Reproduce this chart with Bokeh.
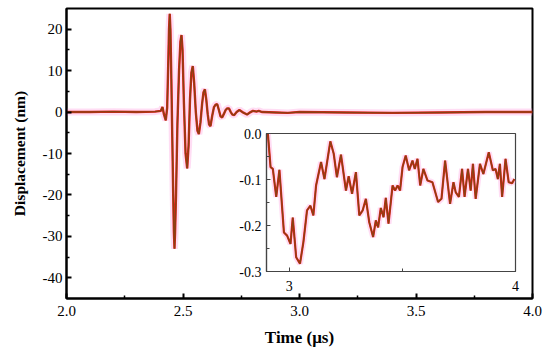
from bokeh.plotting import figure
from bokeh.layouts import column
from bokeh.models import FixedTicker, PrintfTickFormatter
from bokeh.embed import file_html
from bokeh.resources import INLINE

# ---------------- data ----------------
t_main = [2.00, 2.10, 2.20, 2.30, 2.38, 2.405, 2.412, 2.418, 2.426, 2.432,
          2.436, 2.440, 2.443, 2.446, 2.450, 2.454, 2.458, 2.461, 2.4635, 2.466,
          2.470, 2.476, 2.483, 2.489, 2.4936, 2.498, 2.504, 2.511, 2.518, 2.524,
          2.530, 2.536, 2.542, 2.548, 2.555, 2.562, 2.568, 2.575, 2.582, 2.588,
          2.594, 2.600, 2.606, 2.612, 2.618, 2.625, 2.633, 2.640, 2.647, 2.654,
          2.661, 2.668, 2.675, 2.683, 2.690, 2.697, 2.705, 2.712, 2.720, 2.730,
          2.742, 2.755, 2.775, 2.790, 2.800, 2.815, 2.825, 2.840, 2.900, 2.950,
          3.000, 3.200, 3.400, 3.600, 3.800, 4.000]
d_main = [0.0, 0.0, 0.1, 0.0, 0.1, 0.3, 1.2, -0.5, -2.0, 1.0,
          10.0, 20.0, 23.7, 20.0, 8.0, -6.0, -20.0, -29.0, -33.0, -29.0,
          -20.0, -3.0, 10.0, 17.0, 18.6, 15.0, 2.0, -10.0, -13.6, -8.0,
          3.0, 9.5, 11.1, 7.0, 0.0, -4.5, -5.3, -2.5, 2.0, 4.8,
          5.5, 3.0, -0.5, -3.0, -3.4, -1.0, 1.2, 1.8, 1.9, 0.5,
          -1.0, -1.3, -0.5, 0.5, 0.9, 0.9, 0.0, -0.6, -0.7, 0.0,
          0.5, 0.0, -0.6, 0.0, 0.3, 0.1, 0.3, 0.0, -0.1, -0.2,
          0.0, -0.1, -0.2, -0.1, 0.0, 0.0]

t_inset = [2.906, 2.918, 2.928, 2.943, 2.957, 2.977, 2.991, 3.006, 3.016, 3.031,
           3.048, 3.063, 3.079, 3.094, 3.107, 3.119, 3.141, 3.156, 3.182, 3.197,
           3.211, 3.229, 3.251, 3.263, 3.278, 3.295, 3.310, 3.325, 3.339, 3.354,
           3.371, 3.383, 3.393, 3.405, 3.417, 3.427, 3.439, 3.457, 3.468, 3.479,
           3.490, 3.501, 3.515, 3.530, 3.545, 3.555, 3.567, 3.579, 3.593, 3.611,
           3.633, 3.658, 3.673, 3.689, 3.711, 3.726, 3.736, 3.750, 3.764, 3.775,
           3.790, 3.802, 3.812, 3.824, 3.843, 3.858, 3.882, 3.900, 3.912, 3.922,
           3.931, 3.941, 3.956, 3.970, 3.985, 3.995]
d_inset = [0.0, -0.073, -0.077, -0.138, -0.079, -0.215, -0.222, -0.240, -0.183, -0.269,
           -0.283, -0.236, -0.167, -0.157, -0.178, -0.113, -0.062, -0.099, -0.017, -0.044,
           -0.095, -0.046, -0.124, -0.093, -0.131, -0.084, -0.178, -0.167, -0.142, -0.193,
           -0.225, -0.189, -0.204, -0.162, -0.182, -0.140, -0.196, -0.113, -0.124, -0.113,
           -0.124, -0.073, -0.048, -0.080, -0.059, -0.077, -0.055, -0.113, -0.077, -0.102,
           -0.106, -0.149, -0.142, -0.059, -0.153, -0.106, -0.128, -0.138, -0.077, -0.138,
           -0.077, -0.124, -0.066, -0.142, -0.066, -0.088, -0.041, -0.080, -0.077, -0.099,
           -0.066, -0.138, -0.055, -0.106, -0.108, -0.099]

main_xticks = [2.0, 2.5, 3.0, 3.5, 4.0]
main_xminor = [2.25, 2.75, 3.25, 3.75]
main_yticks = [-40, -30, -20, -10, 0, 10, 20]
main_yminor = [-35, -25, -15, -5, 5, 15]
inset_xticks = [3, 4]
inset_xminor = [3.5]
inset_yticks = [0.0, -0.1, -0.2, -0.3]
inset_yminor = [-0.05, -0.15, -0.25]

FONT = "Liberation Serif"
RED = "#e4201a"
BROWN = "#7a4612"
HALO = "#ff9fe0"

BL, BR = 66, 13   # shared left/right borders (column aligns them)


def style_axes(fig, size):
    for ax in fig.axis:
        ax.major_label_text_font = FONT
        ax.major_label_text_font_size = size
        ax.major_label_text_color = "black"
        ax.axis_label_text_font = FONT
        ax.axis_label_text_font_style = "bold"
        ax.axis_label_text_color = "black"
        ax.major_tick_out = 0
        ax.minor_tick_out = 0


# ---------------- main plot ----------------
p = figure(width=BL + 466 + BR, height=350, x_range=(2.0, 4.0), y_range=(-45, 25),
           output_backend="svg", toolbar_location=None,
           min_border_left=BL, min_border_right=BR, min_border_top=8, min_border_bottom=52)
p.grid.visible = False
p.outline_line_color = "black"
p.outline_line_width = 2
p.background_fill_color = "white"
p.border_fill_color = "white"

p.line(t_main, d_main, line_color=HALO, line_width=7, line_alpha=0.35)
p.line(t_main, d_main, line_color=RED, line_width=2.4)
p.line(t_main, d_main, line_color=BROWN, line_width=1.4, line_alpha=0.85)

p.xaxis.ticker = FixedTicker(ticks=main_xticks, minor_ticks=main_xminor)
p.yaxis.ticker = FixedTicker(ticks=main_yticks, minor_ticks=main_yminor)
p.xaxis.formatter = PrintfTickFormatter(format="%.1f")
p.yaxis.formatter = PrintfTickFormatter(format="%d")
p.xaxis.axis_label = "Time (μs)"
p.yaxis.axis_label = "Displacement (nm)"
style_axes(p, "15px")
p.xaxis.axis_label_text_font_size = "17px"
p.yaxis.axis_label_text_font_size = "15.5px"
for ax in p.axis:
    ax.axis_line_width = 2
    ax.major_tick_line_width = 2
    ax.minor_tick_line_width = 1.5
    ax.major_tick_in = 5
    ax.minor_tick_in = 3
p.xaxis.major_label_standoff = 7
p.xaxis.axis_label_standoff = 9
p.yaxis.major_label_standoff = 4
p.yaxis.axis_label_standoff = 12

# ---------------- inset ----------------
q = figure(width=BL + 249 + BR, height=8 + 138 + 24, x_range=(2.9, 4.0), y_range=(-0.3, 0.0),
           output_backend="svg", toolbar_location=None,
           min_border_left=BL, min_border_right=BR, min_border_top=8, min_border_bottom=24)
q.grid.visible = False
q.outline_line_color = "#444444"
q.outline_line_width = 1.2
q.background_fill_color = "white"
q.border_fill_alpha = 0.0

q.line(t_inset, d_inset, line_color=HALO, line_width=6, line_alpha=0.35)
q.line(t_inset, d_inset, line_color=RED, line_width=2.2)
q.line(t_inset, d_inset, line_color=BROWN, line_width=1.3, line_alpha=0.85)

q.xaxis.ticker = FixedTicker(ticks=inset_xticks, minor_ticks=inset_xminor)
q.yaxis.ticker = FixedTicker(ticks=inset_yticks, minor_ticks=inset_yminor)
q.xaxis.formatter = PrintfTickFormatter(format="%d")
q.yaxis.formatter = PrintfTickFormatter(format="%.1f")
style_axes(q, "14px")
for ax in q.axis:
    ax.axis_line_color = "#444444"
    ax.axis_line_width = 1.2
    ax.major_tick_line_color = "#444444"
    ax.minor_tick_line_color = "#444444"
    ax.major_tick_in = 4
    ax.minor_tick_in = 3
q.xaxis.major_label_standoff = 9
q.yaxis.major_label_standoff = 5

q.styles = {"position": "absolute", "left": f"{266 - BL}px", "top": "125px"}

layout = column(p, q)
open("out.html", "w").write(file_html(layout, INLINE))
